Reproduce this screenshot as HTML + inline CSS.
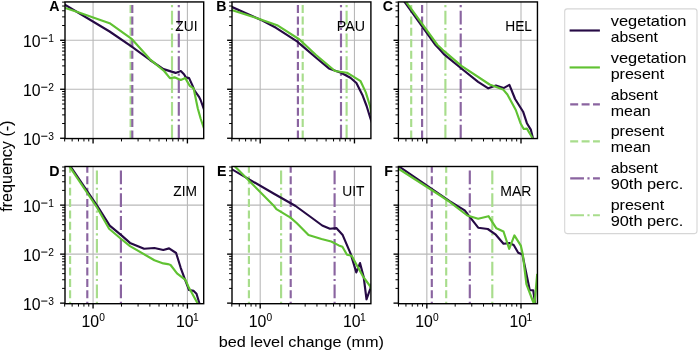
<!DOCTYPE html><html><head><meta charset="utf-8"><style>html,body{margin:0;padding:0;background:#fff;}svg{display:block;filter:blur(0.3px);}text{font-family:"Liberation Sans",sans-serif;stroke:#000;stroke-width:0.05px;}</style></head><body>
<svg width="700" height="351" viewBox="0 0 700 351">
<defs>
<clipPath id="c00"><rect x="65.0" y="1.94" width="138.70" height="136.61"/></clipPath>
<clipPath id="c01"><rect x="232.0" y="1.94" width="138.90" height="136.61"/></clipPath>
<clipPath id="c02"><rect x="398.4" y="1.94" width="139.05" height="136.61"/></clipPath>
<clipPath id="c10"><rect x="65.0" y="166.5" width="138.70" height="137.20"/></clipPath>
<clipPath id="c11"><rect x="232.0" y="166.5" width="138.90" height="137.20"/></clipPath>
<clipPath id="c12"><rect x="398.4" y="166.5" width="139.05" height="137.20"/></clipPath>
</defs>
<g clip-path="url(#c00)"><line x1="93.07" y1="1.94" x2="93.07" y2="138.55" stroke="#b8b8b8" stroke-width="1.1"/><line x1="187.41" y1="1.94" x2="187.41" y2="138.55" stroke="#b8b8b8" stroke-width="1.1"/><line x1="65" y1="89.27" x2="203.7" y2="89.27" stroke="#b8b8b8" stroke-width="1.1"/><line x1="65" y1="40.27" x2="203.7" y2="40.27" stroke="#b8b8b8" stroke-width="1.1"/>
<line x1="130.6" y1="184.14" x2="130.6" y2="-3.06" stroke="#a8dd8c" stroke-width="2.15" stroke-dasharray="7.97,3.44"/>
<line x1="132.3" y1="184.14" x2="132.3" y2="-3.06" stroke="#8a64a0" stroke-width="2.15" stroke-dasharray="7.97,3.44"/>
<line x1="172" y1="184.14" x2="172" y2="-3.06" stroke="#a8dd8c" stroke-width="2.15" stroke-dasharray="13.78,3.44,2.15,3.44"/>
<line x1="178.8" y1="184.14" x2="178.8" y2="-3.06" stroke="#8a64a0" stroke-width="2.15" stroke-dasharray="13.78,3.44,2.15,3.44"/>
<polyline points="64,4.2 109.6,31.5 131.4,46.3 150,60 163.5,69.1 175.6,72.9 180.8,71 184,74.2 185.9,77.4 189.1,78.1 192.3,85.1 194.2,90 199.2,97.1 200.6,100 204.5,111" fill="none" stroke="#260a45" stroke-width="2.15" stroke-linejoin="round" stroke-linecap="butt"/>
<polyline points="64,7.5 76,11.5 109.6,23.2 132,39.2 150,59.3 164.1,71 169.9,78.1 175,77.4 180.8,80 185.3,78.1 189.7,85.8 193.6,88.3 197.8,108.5 200.6,118.5 204.5,130" fill="none" stroke="#60c232" stroke-width="2.15" stroke-linejoin="round" stroke-linecap="butt"/>
</g>
<line x1="64.67" y1="138.55" x2="64.67" y2="141.45" stroke="#000" stroke-width="1.0"/><line x1="72.14" y1="138.55" x2="72.14" y2="141.45" stroke="#000" stroke-width="1.0"/><line x1="78.46" y1="138.55" x2="78.46" y2="141.45" stroke="#000" stroke-width="1.0"/><line x1="83.93" y1="138.55" x2="83.93" y2="141.45" stroke="#000" stroke-width="1.0"/><line x1="88.75" y1="138.55" x2="88.75" y2="141.45" stroke="#000" stroke-width="1.0"/><line x1="93.07" y1="138.55" x2="93.07" y2="143.45" stroke="#000" stroke-width="1.35"/><line x1="121.47" y1="138.55" x2="121.47" y2="141.45" stroke="#000" stroke-width="1.0"/><line x1="138.08" y1="138.55" x2="138.08" y2="141.45" stroke="#000" stroke-width="1.0"/><line x1="149.87" y1="138.55" x2="149.87" y2="141.45" stroke="#000" stroke-width="1.0"/><line x1="159.01" y1="138.55" x2="159.01" y2="141.45" stroke="#000" stroke-width="1.0"/><line x1="166.48" y1="138.55" x2="166.48" y2="141.45" stroke="#000" stroke-width="1.0"/><line x1="172.8" y1="138.55" x2="172.8" y2="141.45" stroke="#000" stroke-width="1.0"/><line x1="178.27" y1="138.55" x2="178.27" y2="141.45" stroke="#000" stroke-width="1.0"/><line x1="183.09" y1="138.55" x2="183.09" y2="141.45" stroke="#000" stroke-width="1.0"/><line x1="187.41" y1="138.55" x2="187.41" y2="143.45" stroke="#000" stroke-width="1.35"/><line x1="65" y1="138.27" x2="60.1" y2="138.27" stroke="#000" stroke-width="1.35"/><line x1="65" y1="123.52" x2="62.1" y2="123.52" stroke="#000" stroke-width="1.0"/><line x1="65" y1="114.89" x2="62.1" y2="114.89" stroke="#000" stroke-width="1.0"/><line x1="65" y1="108.77" x2="62.1" y2="108.77" stroke="#000" stroke-width="1.0"/><line x1="65" y1="104.02" x2="62.1" y2="104.02" stroke="#000" stroke-width="1.0"/><line x1="65" y1="100.14" x2="62.1" y2="100.14" stroke="#000" stroke-width="1.0"/><line x1="65" y1="96.86" x2="62.1" y2="96.86" stroke="#000" stroke-width="1.0"/><line x1="65" y1="94.02" x2="62.1" y2="94.02" stroke="#000" stroke-width="1.0"/><line x1="65" y1="91.51" x2="62.1" y2="91.51" stroke="#000" stroke-width="1.0"/><line x1="65" y1="89.27" x2="60.1" y2="89.27" stroke="#000" stroke-width="1.35"/><line x1="65" y1="74.52" x2="62.1" y2="74.52" stroke="#000" stroke-width="1.0"/><line x1="65" y1="65.89" x2="62.1" y2="65.89" stroke="#000" stroke-width="1.0"/><line x1="65" y1="59.77" x2="62.1" y2="59.77" stroke="#000" stroke-width="1.0"/><line x1="65" y1="55.02" x2="62.1" y2="55.02" stroke="#000" stroke-width="1.0"/><line x1="65" y1="51.14" x2="62.1" y2="51.14" stroke="#000" stroke-width="1.0"/><line x1="65" y1="47.86" x2="62.1" y2="47.86" stroke="#000" stroke-width="1.0"/><line x1="65" y1="45.02" x2="62.1" y2="45.02" stroke="#000" stroke-width="1.0"/><line x1="65" y1="42.51" x2="62.1" y2="42.51" stroke="#000" stroke-width="1.0"/><line x1="65" y1="40.27" x2="60.1" y2="40.27" stroke="#000" stroke-width="1.35"/><line x1="65" y1="25.52" x2="62.1" y2="25.52" stroke="#000" stroke-width="1.0"/><line x1="65" y1="16.89" x2="62.1" y2="16.89" stroke="#000" stroke-width="1.0"/><line x1="65" y1="10.77" x2="62.1" y2="10.77" stroke="#000" stroke-width="1.0"/><line x1="65" y1="6.02" x2="62.1" y2="6.02" stroke="#000" stroke-width="1.0"/><line x1="65" y1="2.14" x2="62.1" y2="2.14" stroke="#000" stroke-width="1.0"/>
<rect x="65" y="1.94" width="138.7" height="136.61" fill="none" stroke="#000" stroke-width="1.4" stroke-linejoin="miter"/>
<text x="59.5" y="11.14" font-size="14.2" font-weight="bold" text-anchor="end">A</text>
<text x="175.3" y="31.14" font-size="15.2" textLength="22.2" lengthAdjust="spacingAndGlyphs">ZUI</text>
<text x="23.0" y="46.77" font-size="15.8" textLength="17.6" lengthAdjust="spacingAndGlyphs">10</text>
<rect x="41.2" y="37.72" width="6.2" height="1.0" fill="#000"/>
<text x="48.3" y="42.07" font-size="10.2">1</text>
<text x="23.0" y="95.77" font-size="15.8" textLength="17.6" lengthAdjust="spacingAndGlyphs">10</text>
<rect x="41.2" y="86.72" width="6.2" height="1.0" fill="#000"/>
<text x="48.3" y="91.07" font-size="10.2">2</text>
<text x="23.0" y="144.77" font-size="15.8" textLength="17.6" lengthAdjust="spacingAndGlyphs">10</text>
<rect x="41.2" y="135.72" width="6.2" height="1.0" fill="#000"/>
<text x="48.3" y="140.07" font-size="10.2">3</text>
<g clip-path="url(#c01)"><line x1="260.2" y1="1.94" x2="260.2" y2="138.55" stroke="#b8b8b8" stroke-width="1.1"/><line x1="354.46" y1="1.94" x2="354.46" y2="138.55" stroke="#b8b8b8" stroke-width="1.1"/><line x1="232" y1="89.27" x2="370.9" y2="89.27" stroke="#b8b8b8" stroke-width="1.1"/><line x1="232" y1="40.27" x2="370.9" y2="40.27" stroke="#b8b8b8" stroke-width="1.1"/>
<line x1="297.9" y1="184.14" x2="297.9" y2="-3.06" stroke="#8a64a0" stroke-width="2.15" stroke-dasharray="7.97,3.44"/>
<line x1="302.7" y1="184.14" x2="302.7" y2="-3.06" stroke="#a8dd8c" stroke-width="2.15" stroke-dasharray="7.97,3.44"/>
<line x1="341" y1="184.14" x2="341" y2="-3.06" stroke="#8a64a0" stroke-width="2.15" stroke-dasharray="13.78,3.44,2.15,3.44"/>
<line x1="346.6" y1="184.14" x2="346.6" y2="-3.06" stroke="#a8dd8c" stroke-width="2.15" stroke-dasharray="13.78,3.44,2.15,3.44"/>
<polyline points="231,6.6 260,19.4 276,27.8 297.4,41.7 304,47.4 316.1,57.7 328.9,68.4 341,72.7 350.4,77.8 356.4,83 362.4,94.9 366.6,106 370.6,119 372,123" fill="none" stroke="#260a45" stroke-width="2.15" stroke-linejoin="round" stroke-linecap="butt"/>
<polyline points="231,9.9 260,19.2 277.1,25.2 299.5,39.5 316,55 335,71 347,72.7 360.6,81.2 365.8,92.4 370,106 371.5,114" fill="none" stroke="#60c232" stroke-width="2.15" stroke-linejoin="round" stroke-linecap="butt"/>
</g>
<line x1="231.82" y1="138.55" x2="231.82" y2="141.45" stroke="#000" stroke-width="1.0"/><line x1="239.29" y1="138.55" x2="239.29" y2="141.45" stroke="#000" stroke-width="1.0"/><line x1="245.6" y1="138.55" x2="245.6" y2="141.45" stroke="#000" stroke-width="1.0"/><line x1="251.07" y1="138.55" x2="251.07" y2="141.45" stroke="#000" stroke-width="1.0"/><line x1="255.89" y1="138.55" x2="255.89" y2="141.45" stroke="#000" stroke-width="1.0"/><line x1="260.2" y1="138.55" x2="260.2" y2="143.45" stroke="#000" stroke-width="1.35"/><line x1="288.58" y1="138.55" x2="288.58" y2="141.45" stroke="#000" stroke-width="1.0"/><line x1="305.17" y1="138.55" x2="305.17" y2="141.45" stroke="#000" stroke-width="1.0"/><line x1="316.95" y1="138.55" x2="316.95" y2="141.45" stroke="#000" stroke-width="1.0"/><line x1="326.08" y1="138.55" x2="326.08" y2="141.45" stroke="#000" stroke-width="1.0"/><line x1="333.55" y1="138.55" x2="333.55" y2="141.45" stroke="#000" stroke-width="1.0"/><line x1="339.86" y1="138.55" x2="339.86" y2="141.45" stroke="#000" stroke-width="1.0"/><line x1="345.33" y1="138.55" x2="345.33" y2="141.45" stroke="#000" stroke-width="1.0"/><line x1="350.15" y1="138.55" x2="350.15" y2="141.45" stroke="#000" stroke-width="1.0"/><line x1="354.46" y1="138.55" x2="354.46" y2="143.45" stroke="#000" stroke-width="1.35"/><line x1="232" y1="138.27" x2="227.1" y2="138.27" stroke="#000" stroke-width="1.35"/><line x1="232" y1="123.52" x2="229.1" y2="123.52" stroke="#000" stroke-width="1.0"/><line x1="232" y1="114.89" x2="229.1" y2="114.89" stroke="#000" stroke-width="1.0"/><line x1="232" y1="108.77" x2="229.1" y2="108.77" stroke="#000" stroke-width="1.0"/><line x1="232" y1="104.02" x2="229.1" y2="104.02" stroke="#000" stroke-width="1.0"/><line x1="232" y1="100.14" x2="229.1" y2="100.14" stroke="#000" stroke-width="1.0"/><line x1="232" y1="96.86" x2="229.1" y2="96.86" stroke="#000" stroke-width="1.0"/><line x1="232" y1="94.02" x2="229.1" y2="94.02" stroke="#000" stroke-width="1.0"/><line x1="232" y1="91.51" x2="229.1" y2="91.51" stroke="#000" stroke-width="1.0"/><line x1="232" y1="89.27" x2="227.1" y2="89.27" stroke="#000" stroke-width="1.35"/><line x1="232" y1="74.52" x2="229.1" y2="74.52" stroke="#000" stroke-width="1.0"/><line x1="232" y1="65.89" x2="229.1" y2="65.89" stroke="#000" stroke-width="1.0"/><line x1="232" y1="59.77" x2="229.1" y2="59.77" stroke="#000" stroke-width="1.0"/><line x1="232" y1="55.02" x2="229.1" y2="55.02" stroke="#000" stroke-width="1.0"/><line x1="232" y1="51.14" x2="229.1" y2="51.14" stroke="#000" stroke-width="1.0"/><line x1="232" y1="47.86" x2="229.1" y2="47.86" stroke="#000" stroke-width="1.0"/><line x1="232" y1="45.02" x2="229.1" y2="45.02" stroke="#000" stroke-width="1.0"/><line x1="232" y1="42.51" x2="229.1" y2="42.51" stroke="#000" stroke-width="1.0"/><line x1="232" y1="40.27" x2="227.1" y2="40.27" stroke="#000" stroke-width="1.35"/><line x1="232" y1="25.52" x2="229.1" y2="25.52" stroke="#000" stroke-width="1.0"/><line x1="232" y1="16.89" x2="229.1" y2="16.89" stroke="#000" stroke-width="1.0"/><line x1="232" y1="10.77" x2="229.1" y2="10.77" stroke="#000" stroke-width="1.0"/><line x1="232" y1="6.02" x2="229.1" y2="6.02" stroke="#000" stroke-width="1.0"/><line x1="232" y1="2.14" x2="229.1" y2="2.14" stroke="#000" stroke-width="1.0"/>
<rect x="232" y="1.94" width="138.9" height="136.61" fill="none" stroke="#000" stroke-width="1.4" stroke-linejoin="miter"/>
<text x="226.5" y="11.14" font-size="14.2" font-weight="bold" text-anchor="end">B</text>
<text x="336.8" y="31.14" font-size="15.2" textLength="28.2" lengthAdjust="spacingAndGlyphs">PAU</text>
<g clip-path="url(#c02)"><line x1="426.84" y1="1.94" x2="426.84" y2="138.55" stroke="#b8b8b8" stroke-width="1.1"/><line x1="521" y1="1.94" x2="521" y2="138.55" stroke="#b8b8b8" stroke-width="1.1"/><line x1="398.4" y1="89.27" x2="537.45" y2="89.27" stroke="#b8b8b8" stroke-width="1.1"/><line x1="398.4" y1="40.27" x2="537.45" y2="40.27" stroke="#b8b8b8" stroke-width="1.1"/>
<line x1="411.2" y1="184.14" x2="411.2" y2="-3.06" stroke="#a8dd8c" stroke-width="2.15" stroke-dasharray="7.97,3.44"/>
<line x1="422.1" y1="184.14" x2="422.1" y2="-3.06" stroke="#8a64a0" stroke-width="2.15" stroke-dasharray="7.97,3.44"/>
<line x1="445.4" y1="184.14" x2="445.4" y2="-3.06" stroke="#a8dd8c" stroke-width="2.15" stroke-dasharray="13.78,3.44,2.15,3.44"/>
<line x1="460.7" y1="184.14" x2="460.7" y2="-3.06" stroke="#8a64a0" stroke-width="2.15" stroke-dasharray="13.78,3.44,2.15,3.44"/>
<polyline points="402.5,-1 435.5,45 440,49.8 443.8,54.1 461.4,68.5 478.1,81.9 488.3,88.3 495.9,85.6 503.6,88.1 509.4,84.9 515.1,99 523.1,111.7 526.9,123.2 530.8,129.6 532.7,137.3 534,141" fill="none" stroke="#260a45" stroke-width="2.15" stroke-linejoin="round" stroke-linecap="butt"/>
<polyline points="404,-1 437.5,45 440,47.2 443.8,50.9 461.4,65.9 489.6,84.5 503,89.4 507.4,94.5 515.8,110 520.5,123.2 523.7,129 526.9,128.6 532,137.3 533.5,141" fill="none" stroke="#60c232" stroke-width="2.15" stroke-linejoin="round" stroke-linecap="butt"/>
</g>
<line x1="398.5" y1="138.55" x2="398.5" y2="141.45" stroke="#000" stroke-width="1.0"/><line x1="405.95" y1="138.55" x2="405.95" y2="141.45" stroke="#000" stroke-width="1.0"/><line x1="412.25" y1="138.55" x2="412.25" y2="141.45" stroke="#000" stroke-width="1.0"/><line x1="417.71" y1="138.55" x2="417.71" y2="141.45" stroke="#000" stroke-width="1.0"/><line x1="422.53" y1="138.55" x2="422.53" y2="141.45" stroke="#000" stroke-width="1.0"/><line x1="426.84" y1="138.55" x2="426.84" y2="143.45" stroke="#000" stroke-width="1.35"/><line x1="455.18" y1="138.55" x2="455.18" y2="141.45" stroke="#000" stroke-width="1.0"/><line x1="471.77" y1="138.55" x2="471.77" y2="141.45" stroke="#000" stroke-width="1.0"/><line x1="483.53" y1="138.55" x2="483.53" y2="141.45" stroke="#000" stroke-width="1.0"/><line x1="492.66" y1="138.55" x2="492.66" y2="141.45" stroke="#000" stroke-width="1.0"/><line x1="500.11" y1="138.55" x2="500.11" y2="141.45" stroke="#000" stroke-width="1.0"/><line x1="506.41" y1="138.55" x2="506.41" y2="141.45" stroke="#000" stroke-width="1.0"/><line x1="511.87" y1="138.55" x2="511.87" y2="141.45" stroke="#000" stroke-width="1.0"/><line x1="516.69" y1="138.55" x2="516.69" y2="141.45" stroke="#000" stroke-width="1.0"/><line x1="521" y1="138.55" x2="521" y2="143.45" stroke="#000" stroke-width="1.35"/><line x1="398.4" y1="138.27" x2="393.5" y2="138.27" stroke="#000" stroke-width="1.35"/><line x1="398.4" y1="123.52" x2="395.5" y2="123.52" stroke="#000" stroke-width="1.0"/><line x1="398.4" y1="114.89" x2="395.5" y2="114.89" stroke="#000" stroke-width="1.0"/><line x1="398.4" y1="108.77" x2="395.5" y2="108.77" stroke="#000" stroke-width="1.0"/><line x1="398.4" y1="104.02" x2="395.5" y2="104.02" stroke="#000" stroke-width="1.0"/><line x1="398.4" y1="100.14" x2="395.5" y2="100.14" stroke="#000" stroke-width="1.0"/><line x1="398.4" y1="96.86" x2="395.5" y2="96.86" stroke="#000" stroke-width="1.0"/><line x1="398.4" y1="94.02" x2="395.5" y2="94.02" stroke="#000" stroke-width="1.0"/><line x1="398.4" y1="91.51" x2="395.5" y2="91.51" stroke="#000" stroke-width="1.0"/><line x1="398.4" y1="89.27" x2="393.5" y2="89.27" stroke="#000" stroke-width="1.35"/><line x1="398.4" y1="74.52" x2="395.5" y2="74.52" stroke="#000" stroke-width="1.0"/><line x1="398.4" y1="65.89" x2="395.5" y2="65.89" stroke="#000" stroke-width="1.0"/><line x1="398.4" y1="59.77" x2="395.5" y2="59.77" stroke="#000" stroke-width="1.0"/><line x1="398.4" y1="55.02" x2="395.5" y2="55.02" stroke="#000" stroke-width="1.0"/><line x1="398.4" y1="51.14" x2="395.5" y2="51.14" stroke="#000" stroke-width="1.0"/><line x1="398.4" y1="47.86" x2="395.5" y2="47.86" stroke="#000" stroke-width="1.0"/><line x1="398.4" y1="45.02" x2="395.5" y2="45.02" stroke="#000" stroke-width="1.0"/><line x1="398.4" y1="42.51" x2="395.5" y2="42.51" stroke="#000" stroke-width="1.0"/><line x1="398.4" y1="40.27" x2="393.5" y2="40.27" stroke="#000" stroke-width="1.35"/><line x1="398.4" y1="25.52" x2="395.5" y2="25.52" stroke="#000" stroke-width="1.0"/><line x1="398.4" y1="16.89" x2="395.5" y2="16.89" stroke="#000" stroke-width="1.0"/><line x1="398.4" y1="10.77" x2="395.5" y2="10.77" stroke="#000" stroke-width="1.0"/><line x1="398.4" y1="6.02" x2="395.5" y2="6.02" stroke="#000" stroke-width="1.0"/><line x1="398.4" y1="2.14" x2="395.5" y2="2.14" stroke="#000" stroke-width="1.0"/>
<rect x="398.4" y="1.94" width="139.05" height="136.61" fill="none" stroke="#000" stroke-width="1.4" stroke-linejoin="miter"/>
<text x="392.9" y="11.14" font-size="14.2" font-weight="bold" text-anchor="end">C</text>
<text x="505.3" y="31.14" font-size="15.2" textLength="26.7" lengthAdjust="spacingAndGlyphs">HEL</text>
<g clip-path="url(#c10)"><line x1="93.07" y1="166.5" x2="93.07" y2="303.7" stroke="#b8b8b8" stroke-width="1.1"/><line x1="187.41" y1="166.5" x2="187.41" y2="303.7" stroke="#b8b8b8" stroke-width="1.1"/><line x1="65" y1="254.13" x2="203.7" y2="254.13" stroke="#b8b8b8" stroke-width="1.1"/><line x1="65" y1="205.13" x2="203.7" y2="205.13" stroke="#b8b8b8" stroke-width="1.1"/>
<line x1="70.1" y1="343.94" x2="70.1" y2="161.5" stroke="#a8dd8c" stroke-width="2.15" stroke-dasharray="7.97,3.44"/>
<line x1="87.3" y1="343.94" x2="87.3" y2="161.5" stroke="#8a64a0" stroke-width="2.15" stroke-dasharray="7.97,3.44"/>
<line x1="96.9" y1="343.94" x2="96.9" y2="161.5" stroke="#a8dd8c" stroke-width="2.15" stroke-dasharray="13.78,3.44,2.15,3.44"/>
<line x1="120.9" y1="343.94" x2="120.9" y2="161.5" stroke="#8a64a0" stroke-width="2.15" stroke-dasharray="13.78,3.44,2.15,3.44"/>
<polyline points="69.2,164.5 97.7,206.5 109.7,225.6 120.6,234.6 130,242.9 144.1,248.7 154.4,248 163.3,250 169.1,248.4 176.1,253 180.7,267.8 185.4,280.7 189.1,290 193.7,290.9 196.5,293.7 199.3,303 200,306" fill="none" stroke="#260a45" stroke-width="2.15" stroke-linejoin="round" stroke-linecap="butt"/>
<polyline points="68.5,165 97,207.5 109.1,228.8 120.6,238.5 130,246.1 154.4,260.2 163.3,263.4 167.8,264.1 170.6,265 177,273.3 185.4,279.8 189.1,288.1 197.4,303 198,306" fill="none" stroke="#60c232" stroke-width="2.15" stroke-linejoin="round" stroke-linecap="butt"/>
</g>
<line x1="64.67" y1="303.7" x2="64.67" y2="306.6" stroke="#000" stroke-width="1.0"/><line x1="72.14" y1="303.7" x2="72.14" y2="306.6" stroke="#000" stroke-width="1.0"/><line x1="78.46" y1="303.7" x2="78.46" y2="306.6" stroke="#000" stroke-width="1.0"/><line x1="83.93" y1="303.7" x2="83.93" y2="306.6" stroke="#000" stroke-width="1.0"/><line x1="88.75" y1="303.7" x2="88.75" y2="306.6" stroke="#000" stroke-width="1.0"/><line x1="93.07" y1="303.7" x2="93.07" y2="308.6" stroke="#000" stroke-width="1.35"/><line x1="121.47" y1="303.7" x2="121.47" y2="306.6" stroke="#000" stroke-width="1.0"/><line x1="138.08" y1="303.7" x2="138.08" y2="306.6" stroke="#000" stroke-width="1.0"/><line x1="149.87" y1="303.7" x2="149.87" y2="306.6" stroke="#000" stroke-width="1.0"/><line x1="159.01" y1="303.7" x2="159.01" y2="306.6" stroke="#000" stroke-width="1.0"/><line x1="166.48" y1="303.7" x2="166.48" y2="306.6" stroke="#000" stroke-width="1.0"/><line x1="172.8" y1="303.7" x2="172.8" y2="306.6" stroke="#000" stroke-width="1.0"/><line x1="178.27" y1="303.7" x2="178.27" y2="306.6" stroke="#000" stroke-width="1.0"/><line x1="183.09" y1="303.7" x2="183.09" y2="306.6" stroke="#000" stroke-width="1.0"/><line x1="187.41" y1="303.7" x2="187.41" y2="308.6" stroke="#000" stroke-width="1.35"/><line x1="65" y1="303.13" x2="60.1" y2="303.13" stroke="#000" stroke-width="1.35"/><line x1="65" y1="288.38" x2="62.1" y2="288.38" stroke="#000" stroke-width="1.0"/><line x1="65" y1="279.75" x2="62.1" y2="279.75" stroke="#000" stroke-width="1.0"/><line x1="65" y1="273.63" x2="62.1" y2="273.63" stroke="#000" stroke-width="1.0"/><line x1="65" y1="268.88" x2="62.1" y2="268.88" stroke="#000" stroke-width="1.0"/><line x1="65" y1="265" x2="62.1" y2="265" stroke="#000" stroke-width="1.0"/><line x1="65" y1="261.72" x2="62.1" y2="261.72" stroke="#000" stroke-width="1.0"/><line x1="65" y1="258.88" x2="62.1" y2="258.88" stroke="#000" stroke-width="1.0"/><line x1="65" y1="256.37" x2="62.1" y2="256.37" stroke="#000" stroke-width="1.0"/><line x1="65" y1="254.13" x2="60.1" y2="254.13" stroke="#000" stroke-width="1.35"/><line x1="65" y1="239.38" x2="62.1" y2="239.38" stroke="#000" stroke-width="1.0"/><line x1="65" y1="230.75" x2="62.1" y2="230.75" stroke="#000" stroke-width="1.0"/><line x1="65" y1="224.63" x2="62.1" y2="224.63" stroke="#000" stroke-width="1.0"/><line x1="65" y1="219.88" x2="62.1" y2="219.88" stroke="#000" stroke-width="1.0"/><line x1="65" y1="216" x2="62.1" y2="216" stroke="#000" stroke-width="1.0"/><line x1="65" y1="212.72" x2="62.1" y2="212.72" stroke="#000" stroke-width="1.0"/><line x1="65" y1="209.88" x2="62.1" y2="209.88" stroke="#000" stroke-width="1.0"/><line x1="65" y1="207.37" x2="62.1" y2="207.37" stroke="#000" stroke-width="1.0"/><line x1="65" y1="205.13" x2="60.1" y2="205.13" stroke="#000" stroke-width="1.35"/><line x1="65" y1="190.38" x2="62.1" y2="190.38" stroke="#000" stroke-width="1.0"/><line x1="65" y1="181.75" x2="62.1" y2="181.75" stroke="#000" stroke-width="1.0"/><line x1="65" y1="175.63" x2="62.1" y2="175.63" stroke="#000" stroke-width="1.0"/><line x1="65" y1="170.88" x2="62.1" y2="170.88" stroke="#000" stroke-width="1.0"/><line x1="65" y1="167" x2="62.1" y2="167" stroke="#000" stroke-width="1.0"/>
<rect x="65" y="166.5" width="138.7" height="137.2" fill="none" stroke="#000" stroke-width="1.4" stroke-linejoin="miter"/>
<text x="59.5" y="175.7" font-size="14.2" font-weight="bold" text-anchor="end">D</text>
<text x="173.3" y="195.7" font-size="15.2" textLength="23.7" lengthAdjust="spacingAndGlyphs">ZIM</text>
<text x="23.0" y="211.63" font-size="15.8" textLength="17.6" lengthAdjust="spacingAndGlyphs">10</text>
<rect x="41.2" y="202.58" width="6.2" height="1.0" fill="#000"/>
<text x="48.3" y="206.93" font-size="10.2">1</text>
<text x="23.0" y="260.63" font-size="15.8" textLength="17.6" lengthAdjust="spacingAndGlyphs">10</text>
<rect x="41.2" y="251.58" width="6.2" height="1.0" fill="#000"/>
<text x="48.3" y="255.93" font-size="10.2">2</text>
<text x="23.0" y="309.63" font-size="15.8" textLength="17.6" lengthAdjust="spacingAndGlyphs">10</text>
<rect x="41.2" y="300.58" width="6.2" height="1.0" fill="#000"/>
<text x="48.3" y="304.93" font-size="10.2">3</text>
<text x="81.57" y="326.6" font-size="15.8" textLength="17.6" lengthAdjust="spacingAndGlyphs">10</text>
<text x="99.27" y="321.2" font-size="10.2">0</text>
<text x="175.91" y="326.6" font-size="15.8" textLength="17.6" lengthAdjust="spacingAndGlyphs">10</text>
<text x="193.01" y="321.2" font-size="10.2">1</text>
<g clip-path="url(#c11)"><line x1="260.2" y1="166.5" x2="260.2" y2="303.7" stroke="#b8b8b8" stroke-width="1.1"/><line x1="354.46" y1="166.5" x2="354.46" y2="303.7" stroke="#b8b8b8" stroke-width="1.1"/><line x1="232" y1="254.13" x2="370.9" y2="254.13" stroke="#b8b8b8" stroke-width="1.1"/><line x1="232" y1="205.13" x2="370.9" y2="205.13" stroke="#b8b8b8" stroke-width="1.1"/>
<line x1="248.9" y1="343.94" x2="248.9" y2="161.5" stroke="#a8dd8c" stroke-width="2.15" stroke-dasharray="7.97,3.44"/>
<line x1="281.1" y1="343.94" x2="281.1" y2="161.5" stroke="#a8dd8c" stroke-width="2.15" stroke-dasharray="13.78,3.44,2.15,3.44"/>
<line x1="290.7" y1="343.94" x2="290.7" y2="161.5" stroke="#8a64a0" stroke-width="2.15" stroke-dasharray="7.97,3.44"/>
<line x1="334.6" y1="343.94" x2="334.6" y2="161.5" stroke="#8a64a0" stroke-width="2.15" stroke-dasharray="13.78,3.44,2.15,3.44"/>
<polyline points="231,168.8 274,193.8 295.6,206 310,216.5 322.2,225.5 329.9,228.7 336.3,228.1 342.7,235.1 350.7,253.9 356.3,272.4 360,263.1 363.7,277 366.5,299.3 370.2,289 372,283" fill="none" stroke="#260a45" stroke-width="2.15" stroke-linejoin="round" stroke-linecap="butt"/>
<polyline points="234.5,166 274,206 276.4,209.2 290.5,217.6 296.9,223.3 308.5,235 321.5,239 331.2,241.5 338.8,245.4 342.4,246.8 347,254.8 351.7,255.7 357.2,265.9 362.8,276.1 370.2,286.3 372,290" fill="none" stroke="#60c232" stroke-width="2.15" stroke-linejoin="round" stroke-linecap="butt"/>
</g>
<line x1="231.82" y1="303.7" x2="231.82" y2="306.6" stroke="#000" stroke-width="1.0"/><line x1="239.29" y1="303.7" x2="239.29" y2="306.6" stroke="#000" stroke-width="1.0"/><line x1="245.6" y1="303.7" x2="245.6" y2="306.6" stroke="#000" stroke-width="1.0"/><line x1="251.07" y1="303.7" x2="251.07" y2="306.6" stroke="#000" stroke-width="1.0"/><line x1="255.89" y1="303.7" x2="255.89" y2="306.6" stroke="#000" stroke-width="1.0"/><line x1="260.2" y1="303.7" x2="260.2" y2="308.6" stroke="#000" stroke-width="1.35"/><line x1="288.58" y1="303.7" x2="288.58" y2="306.6" stroke="#000" stroke-width="1.0"/><line x1="305.17" y1="303.7" x2="305.17" y2="306.6" stroke="#000" stroke-width="1.0"/><line x1="316.95" y1="303.7" x2="316.95" y2="306.6" stroke="#000" stroke-width="1.0"/><line x1="326.08" y1="303.7" x2="326.08" y2="306.6" stroke="#000" stroke-width="1.0"/><line x1="333.55" y1="303.7" x2="333.55" y2="306.6" stroke="#000" stroke-width="1.0"/><line x1="339.86" y1="303.7" x2="339.86" y2="306.6" stroke="#000" stroke-width="1.0"/><line x1="345.33" y1="303.7" x2="345.33" y2="306.6" stroke="#000" stroke-width="1.0"/><line x1="350.15" y1="303.7" x2="350.15" y2="306.6" stroke="#000" stroke-width="1.0"/><line x1="354.46" y1="303.7" x2="354.46" y2="308.6" stroke="#000" stroke-width="1.35"/><line x1="232" y1="303.13" x2="227.1" y2="303.13" stroke="#000" stroke-width="1.35"/><line x1="232" y1="288.38" x2="229.1" y2="288.38" stroke="#000" stroke-width="1.0"/><line x1="232" y1="279.75" x2="229.1" y2="279.75" stroke="#000" stroke-width="1.0"/><line x1="232" y1="273.63" x2="229.1" y2="273.63" stroke="#000" stroke-width="1.0"/><line x1="232" y1="268.88" x2="229.1" y2="268.88" stroke="#000" stroke-width="1.0"/><line x1="232" y1="265" x2="229.1" y2="265" stroke="#000" stroke-width="1.0"/><line x1="232" y1="261.72" x2="229.1" y2="261.72" stroke="#000" stroke-width="1.0"/><line x1="232" y1="258.88" x2="229.1" y2="258.88" stroke="#000" stroke-width="1.0"/><line x1="232" y1="256.37" x2="229.1" y2="256.37" stroke="#000" stroke-width="1.0"/><line x1="232" y1="254.13" x2="227.1" y2="254.13" stroke="#000" stroke-width="1.35"/><line x1="232" y1="239.38" x2="229.1" y2="239.38" stroke="#000" stroke-width="1.0"/><line x1="232" y1="230.75" x2="229.1" y2="230.75" stroke="#000" stroke-width="1.0"/><line x1="232" y1="224.63" x2="229.1" y2="224.63" stroke="#000" stroke-width="1.0"/><line x1="232" y1="219.88" x2="229.1" y2="219.88" stroke="#000" stroke-width="1.0"/><line x1="232" y1="216" x2="229.1" y2="216" stroke="#000" stroke-width="1.0"/><line x1="232" y1="212.72" x2="229.1" y2="212.72" stroke="#000" stroke-width="1.0"/><line x1="232" y1="209.88" x2="229.1" y2="209.88" stroke="#000" stroke-width="1.0"/><line x1="232" y1="207.37" x2="229.1" y2="207.37" stroke="#000" stroke-width="1.0"/><line x1="232" y1="205.13" x2="227.1" y2="205.13" stroke="#000" stroke-width="1.35"/><line x1="232" y1="190.38" x2="229.1" y2="190.38" stroke="#000" stroke-width="1.0"/><line x1="232" y1="181.75" x2="229.1" y2="181.75" stroke="#000" stroke-width="1.0"/><line x1="232" y1="175.63" x2="229.1" y2="175.63" stroke="#000" stroke-width="1.0"/><line x1="232" y1="170.88" x2="229.1" y2="170.88" stroke="#000" stroke-width="1.0"/><line x1="232" y1="167" x2="229.1" y2="167" stroke="#000" stroke-width="1.0"/>
<rect x="232" y="166.5" width="138.9" height="137.2" fill="none" stroke="#000" stroke-width="1.4" stroke-linejoin="miter"/>
<text x="226.5" y="175.7" font-size="14.2" font-weight="bold" text-anchor="end">E</text>
<text x="342.3" y="195.7" font-size="15.2" textLength="22.2" lengthAdjust="spacingAndGlyphs">UIT</text>
<text x="248.7" y="326.6" font-size="15.8" textLength="17.6" lengthAdjust="spacingAndGlyphs">10</text>
<text x="266.4" y="321.2" font-size="10.2">0</text>
<text x="342.96" y="326.6" font-size="15.8" textLength="17.6" lengthAdjust="spacingAndGlyphs">10</text>
<text x="360.06" y="321.2" font-size="10.2">1</text>
<g clip-path="url(#c12)"><line x1="426.84" y1="166.5" x2="426.84" y2="303.7" stroke="#b8b8b8" stroke-width="1.1"/><line x1="521" y1="166.5" x2="521" y2="303.7" stroke="#b8b8b8" stroke-width="1.1"/><line x1="398.4" y1="254.13" x2="537.45" y2="254.13" stroke="#b8b8b8" stroke-width="1.1"/><line x1="398.4" y1="205.13" x2="537.45" y2="205.13" stroke="#b8b8b8" stroke-width="1.1"/>
<line x1="431.8" y1="343.94" x2="431.8" y2="161.5" stroke="#8a64a0" stroke-width="2.15" stroke-dasharray="7.97,3.44"/>
<line x1="446.2" y1="343.94" x2="446.2" y2="161.5" stroke="#a8dd8c" stroke-width="2.15" stroke-dasharray="7.97,3.44"/>
<line x1="469.8" y1="343.94" x2="469.8" y2="161.5" stroke="#8a64a0" stroke-width="2.15" stroke-dasharray="13.78,3.44,2.15,3.44"/>
<line x1="492.3" y1="343.94" x2="492.3" y2="161.5" stroke="#a8dd8c" stroke-width="2.15" stroke-dasharray="13.78,3.44,2.15,3.44"/>
<polyline points="398,165.8 450,201.4 464.7,210.4 469.2,216.2 478.2,227.7 487.8,229 495.8,234.7 503.5,243.7 509.2,243.1 513.7,245 518.2,252.7 522.4,254.5 529.8,290.2 533.2,290.2 535.5,306" fill="none" stroke="#260a45" stroke-width="2.15" stroke-linejoin="round" stroke-linecap="butt"/>
<polyline points="398,168.4 441,196 450,202.1 467.3,215.5 478.2,218.7 488.5,216.2 496.4,228.3 503.5,231.5 509.2,248.8 514.4,235.4 520.8,245.6 522.8,254.5 526.4,284.2 533.2,302 534.5,304 537.2,273.9" fill="none" stroke="#60c232" stroke-width="2.15" stroke-linejoin="round" stroke-linecap="butt"/>
</g>
<line x1="398.5" y1="303.7" x2="398.5" y2="306.6" stroke="#000" stroke-width="1.0"/><line x1="405.95" y1="303.7" x2="405.95" y2="306.6" stroke="#000" stroke-width="1.0"/><line x1="412.25" y1="303.7" x2="412.25" y2="306.6" stroke="#000" stroke-width="1.0"/><line x1="417.71" y1="303.7" x2="417.71" y2="306.6" stroke="#000" stroke-width="1.0"/><line x1="422.53" y1="303.7" x2="422.53" y2="306.6" stroke="#000" stroke-width="1.0"/><line x1="426.84" y1="303.7" x2="426.84" y2="308.6" stroke="#000" stroke-width="1.35"/><line x1="455.18" y1="303.7" x2="455.18" y2="306.6" stroke="#000" stroke-width="1.0"/><line x1="471.77" y1="303.7" x2="471.77" y2="306.6" stroke="#000" stroke-width="1.0"/><line x1="483.53" y1="303.7" x2="483.53" y2="306.6" stroke="#000" stroke-width="1.0"/><line x1="492.66" y1="303.7" x2="492.66" y2="306.6" stroke="#000" stroke-width="1.0"/><line x1="500.11" y1="303.7" x2="500.11" y2="306.6" stroke="#000" stroke-width="1.0"/><line x1="506.41" y1="303.7" x2="506.41" y2="306.6" stroke="#000" stroke-width="1.0"/><line x1="511.87" y1="303.7" x2="511.87" y2="306.6" stroke="#000" stroke-width="1.0"/><line x1="516.69" y1="303.7" x2="516.69" y2="306.6" stroke="#000" stroke-width="1.0"/><line x1="521" y1="303.7" x2="521" y2="308.6" stroke="#000" stroke-width="1.35"/><line x1="398.4" y1="303.13" x2="393.5" y2="303.13" stroke="#000" stroke-width="1.35"/><line x1="398.4" y1="288.38" x2="395.5" y2="288.38" stroke="#000" stroke-width="1.0"/><line x1="398.4" y1="279.75" x2="395.5" y2="279.75" stroke="#000" stroke-width="1.0"/><line x1="398.4" y1="273.63" x2="395.5" y2="273.63" stroke="#000" stroke-width="1.0"/><line x1="398.4" y1="268.88" x2="395.5" y2="268.88" stroke="#000" stroke-width="1.0"/><line x1="398.4" y1="265" x2="395.5" y2="265" stroke="#000" stroke-width="1.0"/><line x1="398.4" y1="261.72" x2="395.5" y2="261.72" stroke="#000" stroke-width="1.0"/><line x1="398.4" y1="258.88" x2="395.5" y2="258.88" stroke="#000" stroke-width="1.0"/><line x1="398.4" y1="256.37" x2="395.5" y2="256.37" stroke="#000" stroke-width="1.0"/><line x1="398.4" y1="254.13" x2="393.5" y2="254.13" stroke="#000" stroke-width="1.35"/><line x1="398.4" y1="239.38" x2="395.5" y2="239.38" stroke="#000" stroke-width="1.0"/><line x1="398.4" y1="230.75" x2="395.5" y2="230.75" stroke="#000" stroke-width="1.0"/><line x1="398.4" y1="224.63" x2="395.5" y2="224.63" stroke="#000" stroke-width="1.0"/><line x1="398.4" y1="219.88" x2="395.5" y2="219.88" stroke="#000" stroke-width="1.0"/><line x1="398.4" y1="216" x2="395.5" y2="216" stroke="#000" stroke-width="1.0"/><line x1="398.4" y1="212.72" x2="395.5" y2="212.72" stroke="#000" stroke-width="1.0"/><line x1="398.4" y1="209.88" x2="395.5" y2="209.88" stroke="#000" stroke-width="1.0"/><line x1="398.4" y1="207.37" x2="395.5" y2="207.37" stroke="#000" stroke-width="1.0"/><line x1="398.4" y1="205.13" x2="393.5" y2="205.13" stroke="#000" stroke-width="1.35"/><line x1="398.4" y1="190.38" x2="395.5" y2="190.38" stroke="#000" stroke-width="1.0"/><line x1="398.4" y1="181.75" x2="395.5" y2="181.75" stroke="#000" stroke-width="1.0"/><line x1="398.4" y1="175.63" x2="395.5" y2="175.63" stroke="#000" stroke-width="1.0"/><line x1="398.4" y1="170.88" x2="395.5" y2="170.88" stroke="#000" stroke-width="1.0"/><line x1="398.4" y1="167" x2="395.5" y2="167" stroke="#000" stroke-width="1.0"/>
<rect x="398.4" y="166.5" width="139.05" height="137.2" fill="none" stroke="#000" stroke-width="1.4" stroke-linejoin="miter"/>
<text x="392.9" y="175.7" font-size="14.2" font-weight="bold" text-anchor="end">F</text>
<text x="500.3" y="195.7" font-size="15.2" textLength="31.2" lengthAdjust="spacingAndGlyphs">MAR</text>
<text x="415.34" y="326.6" font-size="15.8" textLength="17.6" lengthAdjust="spacingAndGlyphs">10</text>
<text x="433.04" y="321.2" font-size="10.2">0</text>
<text x="509.5" y="326.6" font-size="15.8" textLength="17.6" lengthAdjust="spacingAndGlyphs">10</text>
<text x="526.6" y="321.2" font-size="10.2">1</text>
<text x="218.7" y="346.7" font-size="15.0" textLength="165.3" lengthAdjust="spacingAndGlyphs">bed level change (mm)</text>
<text transform="translate(12.1,211.8) rotate(-90)" x="0" y="0" font-size="15.6" textLength="91.3" lengthAdjust="spacingAndGlyphs">frequency (-)</text>
<rect x="564.7" y="8.9" width="132.3" height="224.7" rx="2.5" ry="2.5" fill="#fff" stroke="#d6d6d6" stroke-width="1.1"/>
<line x1="569.6" y1="30.5" x2="599.9" y2="30.5" stroke="#260a45" stroke-width="2.15"/>
<text x="610.7" y="26" font-size="15.0" textLength="75.7" lengthAdjust="spacingAndGlyphs">vegetation</text>
<text x="610.7" y="41.9" font-size="15.0" textLength="47.2" lengthAdjust="spacingAndGlyphs">absent</text>
<line x1="569.6" y1="67.45" x2="599.9" y2="67.45" stroke="#60c232" stroke-width="2.15"/>
<text x="610.7" y="62.8" font-size="15.0" textLength="75.7" lengthAdjust="spacingAndGlyphs">vegetation</text>
<text x="610.7" y="78.7" font-size="15.0" textLength="53.5" lengthAdjust="spacingAndGlyphs">present</text>
<line x1="570.2" y1="104.4" x2="599.9" y2="104.4" stroke="#8a64a0" stroke-width="2.15" stroke-dasharray="7.97,3.44"/>
<text x="610.7" y="99.6" font-size="15.0" textLength="47.2" lengthAdjust="spacingAndGlyphs">absent</text>
<text x="610.7" y="115.5" font-size="15.0" textLength="40.0" lengthAdjust="spacingAndGlyphs">mean</text>
<line x1="570.2" y1="141.35" x2="599.9" y2="141.35" stroke="#a8dd8c" stroke-width="2.15" stroke-dasharray="7.97,3.44"/>
<text x="610.7" y="136.4" font-size="15.0" textLength="53.5" lengthAdjust="spacingAndGlyphs">present</text>
<text x="610.7" y="152.3" font-size="15.0" textLength="40.0" lengthAdjust="spacingAndGlyphs">mean</text>
<line x1="570.2" y1="178.3" x2="599.9" y2="178.3" stroke="#8a64a0" stroke-width="2.15" stroke-dasharray="13.78,3.44,2.15,3.44"/>
<text x="610.7" y="173.2" font-size="15.0" textLength="47.2" lengthAdjust="spacingAndGlyphs">absent</text>
<text x="610.7" y="189.1" font-size="15.0" textLength="72.6" lengthAdjust="spacingAndGlyphs">90th perc.</text>
<line x1="570.2" y1="215.25" x2="599.9" y2="215.25" stroke="#a8dd8c" stroke-width="2.15" stroke-dasharray="13.78,3.44,2.15,3.44"/>
<text x="610.7" y="210" font-size="15.0" textLength="53.5" lengthAdjust="spacingAndGlyphs">present</text>
<text x="610.7" y="225.9" font-size="15.0" textLength="72.6" lengthAdjust="spacingAndGlyphs">90th perc.</text>
</svg></body></html>
